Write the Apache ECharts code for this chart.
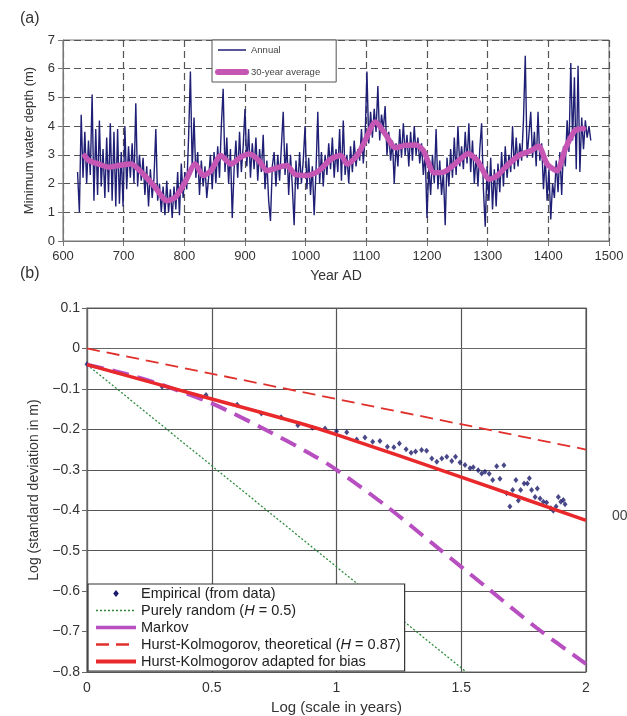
<!DOCTYPE html>
<html>
<head>
<meta charset="utf-8">
<script src="https://cdn.jsdelivr.net/npm/echarts@6/dist/echarts.min.js"></script>
<style>
html, body { margin: 0; padding: 0; background: #fff; }
#chart { width: 627px; height: 716px; }
</style>
</head>
<body>
<div id="chart"></div>
<script>
// (a) annual minimum water depth, one reading every 3 years from 624
const annualStart = 624;
const annualStep = 3;
const annualDepth = [
  2.4, 1.0, 4.4, 2.2, 3.8, 2.0, 3.5, 2.3, 5.1, 1.4,
  3.9, 1.6, 4.2, 1.9, 3.2, 1.5, 3.6, 1.7, 4.1, 1.4,
  3.8, 1.2, 3.9, 1.3, 3.1, 1.2, 4.0, 1.8, 3.3, 2.2,
  3.4, 2.0, 4.8, 1.9, 3.0, 2.1, 2.9, 1.6, 2.6, 1.2,
  2.5, 1.5, 2.2, 3.9, 1.4, 2.0, 1.0, 1.9, 0.9, 2.1,
  1.0, 1.8, 0.8, 1.9, 1.1, 2.4, 0.9, 2.7, 1.5, 2.4,
  1.8, 3.6, 5.9, 2.5, 4.3, 2.2, 3.1, 1.6, 2.8, 1.9,
  2.6, 1.5, 2.2, 3.0, 1.8, 3.1, 2.0, 3.3, 2.2, 4.0,
  5.3, 2.4, 3.6, 2.0, 3.2, 0.8, 2.5, 3.5, 2.2, 3.8,
  2.4, 3.3, 4.6, 2.6, 3.9, 2.2, 3.4, 2.5, 3.6, 2.1,
  3.2, 2.4, 3.7, 1.8, 2.8, 1.4, 0.7, 2.6, 3.1, 1.9,
  3.0, 2.1, 3.3, 4.5, 2.3, 3.4, 1.6, 3.0, 1.9, 0.55,
  2.8, 1.8, 3.1, 2.0, 2.8, 4.0, 1.8, 2.9, 1.6, 2.6,
  0.9, 2.4, 4.5, 2.0, 3.1, 1.9, 3.0, 2.3, 3.4, 2.5,
  3.6, 2.2, 3.2, 2.4, 3.9, 2.1, 4.2, 2.3, 3.0, 2.0,
  3.3, 2.4, 3.5, 2.6, 3.2, 2.8, 3.9, 2.7, 3.6, 5.9,
  3.4, 4.5, 3.6, 4.6, 3.8, 5.4, 3.5, 4.4, 3.9, 4.7,
  3.0, 3.8, 2.8, 3.5, 2.0, 3.4, 2.6, 3.9, 2.9, 4.1,
  3.0, 3.7, 2.6, 3.8, 2.8, 4.0, 3.0, 3.6, 2.7, 3.4,
  2.3, 3.1, 0.8, 2.6, 1.6, 3.0, 2.0, 3.9, 1.8, 2.8,
  1.6, 2.4, 0.55, 2.9, 1.9, 3.2, 2.2, 3.6, 2.3, 4.0,
  2.6, 3.3, 2.5, 3.8, 2.7, 4.1, 2.4, 3.5, 2.0, 3.0,
  1.9, 3.2, 4.1, 1.8, 0.5, 2.6, 1.4, 2.9, 1.1, 2.5,
  1.2, 2.7, 1.7, 3.1, 1.9, 3.3, 2.2, 3.0, 2.4, 4.0,
  2.5, 3.6, 2.6, 3.4, 2.8, 4.2, 6.45, 2.9, 3.7, 4.5,
  2.9, 3.8, 2.6, 4.5, 2.8, 3.4, 1.8, 2.9, 1.4, 2.5,
  0.75, 2.0, 1.5, 2.8, 1.7, 3.1, 1.6, 3.3, 2.6, 4.2,
  3.1, 6.2, 3.5, 5.7, 2.5, 6.1, 2.4, 4.3, 3.2, 4.2,
  3.6, 4.0, 3.5
];
// (a) 30-year running average
const avgYears = [636, 643, 659, 676, 692, 712, 732, 752, 771, 785,
  801, 818, 831, 844, 860, 877, 893, 907, 923, 936,
  956, 969, 982, 1002, 1022, 1042, 1058, 1068, 1085, 1098,
  1115, 1131, 1148, 1164, 1182, 1194, 1212, 1226, 1246, 1268,
  1283, 1303, 1316, 1332, 1352, 1372, 1384, 1398, 1414, 1428,
  1444, 1458];
const avgDepth = [2.96, 2.80, 2.68, 2.57, 2.63, 2.68, 2.33, 1.87, 1.40, 1.52,
  2.04, 2.68, 2.28, 2.45, 2.98, 2.68, 2.92, 3.03, 2.80, 2.45,
  2.57, 2.63, 2.33, 2.28, 2.45, 2.86, 2.98, 2.68, 2.98, 3.50,
  4.14, 3.73, 3.25, 3.33, 3.34, 3.15, 2.38, 2.39, 2.68, 3.04,
  2.80, 2.15, 2.28, 2.63, 2.98, 3.15, 3.30, 2.68, 2.45, 3.21,
  3.85, 3.92];

// (b) climacogram: log scale vs log standard deviation
const empLogScale = [0, 0.301, 0.477, 0.602, 0.699, 0.778, 0.845, 0.903, 0.954, 1.0,
  1.041, 1.081, 1.114, 1.145, 1.174, 1.204, 1.23, 1.252, 1.279, 1.299,
  1.317, 1.341, 1.361, 1.382, 1.402, 1.422, 1.442, 1.462, 1.477, 1.495,
  1.515, 1.535, 1.548, 1.568, 1.582, 1.595, 1.612, 1.626, 1.642, 1.655,
  1.671, 1.682, 1.695, 1.706, 1.719, 1.729, 1.738, 1.752, 1.765, 1.773,
  1.782, 1.796, 1.805, 1.816, 1.829, 1.842, 1.859, 1.869, 1.88, 1.889,
  1.899, 1.909, 1.916];
const empLogSd = [-0.039, -0.095, -0.115, -0.139, -0.161, -0.170, -0.190, -0.196, -0.198, -0.205,
  -0.207, -0.225, -0.220, -0.231, -0.229, -0.243, -0.244, -0.235, -0.249, -0.258,
  -0.255, -0.251, -0.253, -0.272, -0.280, -0.272, -0.268, -0.278, -0.268, -0.282,
  -0.288, -0.296, -0.294, -0.301, -0.309, -0.305, -0.310, -0.325, -0.291, -0.322,
  -0.289, -0.358, -0.391, -0.350, -0.325, -0.376, -0.350, -0.334, -0.334, -0.321,
  -0.350, -0.367, -0.346, -0.371, -0.379, -0.381, -0.395, -0.401, -0.391, -0.367,
  -0.379, -0.375, -0.385];
const randomX = [0, 1.52];
const randomY = [-0.04, -0.80];
const markovX = [0, 0.15, 0.3, 0.5, 0.7, 0.9, 1.0, 1.2, 1.4, 1.6, 1.8, 2.0];
const markovY = [-0.04, -0.062, -0.09, -0.136, -0.196, -0.262, -0.30, -0.39, -0.49, -0.59, -0.69, -0.78];
const hkTheoX = [0, 2];
const hkTheoY = [0, -0.25];
const hkBiasX = [0, 0.5, 0.854, 1.0, 1.5, 2.0];
const hkBiasY = [-0.04, -0.125, -0.185, -0.213, -0.318, -0.425];

const zip = (xs, ys) => xs.map((x, i) => [x, ys[i]]);

const font = '"Liberation Sans", Arial, sans-serif';
const fmtB = v => {
  if (Math.abs(v) < 1e-9) return '0';
  return v < 0 ? '\u2212' + Math.abs(v).toFixed(1) : v.toFixed(1);
};
const plain = v => String(Math.round(v * 100) / 100);

const chart = echarts.init(document.getElementById('chart'));

const option = {
  animation: false,
  textStyle: { fontFamily: font },
  graphic: [
    { type: 'text', left: 20, top: 11, style: { text: '(a)', font: '16px ' + font, fill: '#333' } },
    { type: 'text', left: 20, top: 266, style: { text: '(b)', font: '16px ' + font, fill: '#333' } },
    { type: 'text', left: 612, top: 509, style: { text: '00', font: '14px ' + font, fill: '#444' } }
  ],
  grid: [
    { left: 63, top: 40, width: 546, height: 201, show: true, borderColor: '#777', borderWidth: 1, outerBoundsMode: 'none', containLabel: false },
    { left: 87, top: 308, width: 499, height: 364, show: true, borderColor: '#666', borderWidth: 1.2, outerBoundsMode: 'none', containLabel: false }
  ],
  xAxis: [
    {
      gridIndex: 0, type: 'value', min: 600, max: 1500, interval: 100,
      name: 'Year AD', nameLocation: 'middle', nameGap: 28,
      nameTextStyle: { fontSize: 14, color: '#333' },
      axisLine: { lineStyle: { color: '#777' } },
      axisTick: { length: 5, lineStyle: { color: '#777' } },
      axisLabel: { fontSize: 13, color: '#333', margin: 9, showMinLabel: true, showMaxLabel: true, formatter: plain },
      splitLine: { lineStyle: { color: '#555', type: [7, 4], width: 1.2 } }
    },
    {
      gridIndex: 1, type: 'value', min: 0, max: 2, interval: 0.5,
      name: 'Log (scale in years)', nameLocation: 'middle', nameGap: 26,
      nameTextStyle: { fontSize: 15, color: '#333' },
      axisLine: { lineStyle: { color: '#666', width: 1.2 } },
      axisTick: { length: 4, lineStyle: { color: '#666' } },
      axisLabel: { fontSize: 14, color: '#333', margin: 9, showMinLabel: true, showMaxLabel: true, formatter: plain },
      splitLine: { lineStyle: { color: '#555', width: 1.2 } }
    }
  ],
  yAxis: [
    {
      gridIndex: 0, type: 'value', min: 0, max: 7, interval: 1,
      name: 'Minimum water depth (m)', nameLocation: 'middle', nameGap: 27,
      nameTextStyle: { fontSize: 13, color: '#333' },
      axisLine: { show: true, lineStyle: { color: '#777' } },
      axisTick: { show: true, length: 5, lineStyle: { color: '#777' } },
      axisLabel: { fontSize: 13, color: '#333', margin: 8, formatter: plain },
      splitLine: { lineStyle: { color: '#555', type: [7, 4], width: 1.2 } }
    },
    {
      gridIndex: 1, type: 'value', min: -0.8, max: 0.1, interval: 0.1,
      name: 'Log (standard deviation in m)', nameLocation: 'middle', nameGap: 44,
      nameTextStyle: { fontSize: 14, color: '#333' },
      axisLine: { show: true, lineStyle: { color: '#666', width: 1.2 } },
      axisTick: { show: true, length: 5, lineStyle: { color: '#666' } },
      axisLabel: { fontSize: 14, color: '#333', margin: 7, formatter: fmtB },
      splitLine: { lineStyle: { color: '#555', width: 1.2 } }
    }
  ],
  legend: [
    {
      data: [
        { name: 'Annual', lineStyle: { width: 1.5 } },
        { name: '30-year average', lineStyle: { width: 6, cap: 'round' } }
      ],
      orient: 'vertical', left: 212, top: 40,
      itemWidth: 28, itemHeight: 8, itemGap: 12,
      padding: [5, 16, 5, 3],
      itemStyle: { opacity: 0 },
      backgroundColor: '#fff', borderColor: '#555', borderWidth: 1,
      textStyle: { fontSize: 9.5, color: '#444' }
    },
    {
      data: [
        { name: 'Empirical (from data)', icon: 'path://M0,0M40,10M17.2,5L20,1.6L22.8,5L20,8.4Z', itemStyle: { opacity: 1 } },
        { name: 'Purely random (H = 0.5)', lineStyle: { width: 1.5 } },
        { name: 'Markov', lineStyle: { type: 'solid', width: 3.5 } },
        { name: 'Hurst-Kolmogorov, theoretical (H = 0.87)', lineStyle: { width: 2.5 } },
        { name: 'Hurst-Kolmogorov adapted for bias', lineStyle: { width: 4 } }
      ],
      orient: 'vertical', left: 88, top: 584,
      itemWidth: 40, itemHeight: 10, itemGap: 2,
      padding: [2, 4, 2, 6],
      itemStyle: { opacity: 0 },
      backgroundColor: '#fff', borderColor: '#333', borderWidth: 1.2,
      textStyle: {
        fontSize: 14.5, lineHeight: 14, color: '#222',
        rich: { i: { fontStyle: 'italic', fontSize: 14.5, lineHeight: 14, color: '#222' } }
      },
      formatter: name => name.replace('(H', '({i|H}')
    }
  ],
  series: [
    {
      name: 'Annual', type: 'line', xAxisIndex: 0, yAxisIndex: 0,
      symbol: 'none',
      data: annualDepth.map((v, i) => [annualStart + i * annualStep, v]),
      lineStyle: { color: '#1f1f75', width: 1.4 },
      itemStyle: { color: '#1f1f75' }
    },
    {
      name: '30-year average', type: 'line', xAxisIndex: 0, yAxisIndex: 0,
      symbol: 'none', smooth: 0.25,
      data: zip(avgYears, avgDepth),
      lineStyle: { color: '#c556b3', width: 5.5, cap: 'round', join: 'round' },
      itemStyle: { color: '#c556b3' }
    },
    {
      name: 'Purely random (H = 0.5)', type: 'line', xAxisIndex: 1, yAxisIndex: 1,
      symbol: 'none', data: zip(randomX, randomY),
      lineStyle: { color: '#2e8b3c', width: 1.3, type: [2, 2] },
      itemStyle: { color: '#2e8b3c' }
    },
    {
      name: 'Markov', type: 'line', xAxisIndex: 1, yAxisIndex: 1,
      symbol: 'none', smooth: 0.3, data: zip(markovX, markovY),
      lineStyle: { color: '#b84fc0', width: 4, type: [17, 9] },
      itemStyle: { color: '#b84fc0' }
    },
    {
      name: 'Hurst-Kolmogorov, theoretical (H = 0.87)', type: 'line', xAxisIndex: 1, yAxisIndex: 1,
      symbol: 'none', data: zip(hkTheoX, hkTheoY),
      lineStyle: { color: '#e0302c', width: 1.8, type: [13, 7] },
      itemStyle: { color: '#e0302c' }
    },
    {
      name: 'Hurst-Kolmogorov adapted for bias', type: 'line', xAxisIndex: 1, yAxisIndex: 1,
      symbol: 'none', smooth: 0.3, data: zip(hkBiasX, hkBiasY),
      lineStyle: { color: '#e8282a', width: 3.5 },
      itemStyle: { color: '#e8282a' }
    },
    {
      name: 'Empirical (from data)', type: 'scatter', xAxisIndex: 1, yAxisIndex: 1,
      symbol: 'diamond', symbolSize: [5, 6],
      data: zip(empLogScale, empLogSd),
      itemStyle: { color: '#1b1b6b' }
    }
  ]
};

chart.setOption(option);
</script>
</body>
</html>
